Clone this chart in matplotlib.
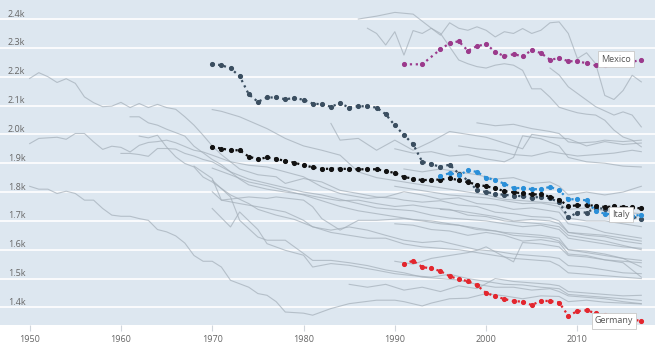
import matplotlib
matplotlib.use("Agg")
import matplotlib.pyplot as plt

plt.rcParams["font.family"] = ["Open Sans", "DejaVu Sans"]

# highlighted series
dark_years = list(range(1970, 2018))
dark_vals = [2244, 2240, 2229, 2202, 2139, 2113, 2128, 2128, 2122, 2126,
             2120, 2107, 2104, 2096, 2108, 2093, 2098, 2097, 2093, 2070,
             2031, 1998, 1966, 1905, 1897, 1887, 1895, 1864, 1840, 1807,
             1800, 1795, 1790, 1788, 1785, 1780, 1784, 1778, 1765, 1712,
             1729, 1729, 1745, 1742, 1735, 1722, 1714, 1708]

black_years = list(range(1970, 2018))
black_vals = [1957, 1951, 1945, 1945, 1923, 1914, 1920, 1915, 1908, 1902,
              1893, 1886, 1880, 1881, 1881, 1880, 1879, 1879, 1879, 1873,
              1866, 1852, 1847, 1841, 1843, 1843, 1848, 1841, 1834, 1826,
              1820, 1813, 1803, 1799, 1796, 1792, 1792, 1784, 1774, 1751,
              1754, 1754, 1753, 1748, 1750, 1748, 1747, 1743]

italy_years = list(range(1995, 2018))
italy_vals = [1855, 1866, 1858, 1875, 1870, 1850, 1841, 1829, 1814, 1814,
              1810, 1810, 1818, 1806, 1775, 1775, 1771, 1734, 1725, 1722,
              1718, 1716, 1722]

mexico_years = [1991, 1993] + list(range(1995, 2018))
mexico_vals = [2243, 2243, 2295, 2316, 2323, 2290, 2306, 2313, 2286, 2271,
               2278, 2271, 2292, 2282, 2259, 2264, 2254, 2253, 2247, 2239,
               2240, 2243, 2248, 2252, 2258]

germany_years = list(range(1991, 2018))
germany_vals = [1551, 1562, 1540, 1535, 1526, 1508, 1498, 1491, 1477, 1450,
                1439, 1429, 1422, 1420, 1408, 1423, 1422, 1417, 1371, 1387,
                1390, 1380, 1372, 1368, 1362, 1358, 1353]

# background (grey) series
bg01_x = list(range(1950, 1971)) + [1971, 1973, 1975, 1977, 1978, 1980, 1982, 1984, 1986, 1988, 1990, 1991,
                                     1993, 1995, 1997, 1999, 2001, 2003, 2005, 2007, 2008, 2009, 2011, 2013, 2015, 2017]
bg01_y = [2194, 2214, 2200, 2180, 2193, 2177, 2130, 2110, 2096, 2098, 2111, 2093, 2107, 2093, 2104, 2093,
          2087, 2061, 2032, 1997, 1960, 1930, 1880, 1860, 1853, 1830, 1847, 1835, 1806, 1795, 1783, 1778,
          1772, 1765, 1770, 1755, 1750, 1730, 1725, 1715, 1712, 1700, 1660, 1655, 1650, 1640, 1630]

bg02_x = list(range(1950, 1971)) + [1972, 1974, 1976, 1978, 1980, 1982, 1984, 1985, 1987, 1989, 1991, 1993,
                                     1995, 1997, 1999, 2001, 2003, 2005, 2007, 2008, 2009, 2011, 2013, 2015, 2017]
bg02_y = [1968, 1986, 1988, 1990, 1983, 2003, 2003, 1974, 1948, 1959, 1955, 1939, 1962, 1972, 1975, 1980,
          1971, 1958, 1945, 1939, 1928, 1905, 1893, 1887, 1870, 1853, 1818, 1795, 1789, 1778, 1783, 1801,
          1790, 1775, 1780, 1760, 1755, 1740, 1745, 1735, 1730, 1690, 1680, 1660, 1650, 1640]

bg03_x = list(range(1950, 1972)) + [1972, 1974, 1975, 1976, 1977, 1978, 1980, 1981, 1983, 1985, 1988, 1990,
                                     1991, 1993, 1994, 1996, 1998, 2000, 2002, 2004, 2006, 2008, 2009, 2011,
                                     2013, 2015, 2017]
bg03_y = [1820, 1810, 1810, 1795, 1803, 1795, 1772, 1772, 1743, 1720, 1716, 1716, 1708, 1702, 1670, 1662,
          1648, 1623, 1580, 1560, 1560, 1540, 1494, 1470, 1448, 1442, 1420, 1384, 1380, 1373, 1396, 1413,
          1425, 1425, 1420, 1405, 1415, 1430, 1432, 1448, 1440, 1430, 1440, 1438, 1420, 1425, 1418, 1415, 1412]

bg04_x = list(range(1961, 1971)) + [1971, 1972, 1973, 1974, 1976, 1978, 1980, 1982, 1984, 1986, 1988, 1990,
                                     1992, 1994, 1996, 1998, 2000, 2002, 2004, 2006, 2008, 2009, 2011, 2013,
                                     2015, 2017]
bg04_y = [2061, 2061, 2040, 2032, 2018, 2006, 1994, 1959, 1936, 1913, 1895, 1870, 1845, 1825, 1810, 1800,
          1792, 1780, 1770, 1772, 1760, 1750, 1755, 1745, 1740, 1720, 1715, 1700, 1695, 1690, 1680, 1650,
          1640, 1630, 1615, 1600]

bg05_x = list(range(1962, 1971)) + [1972, 1974, 1975, 1977, 1979, 1981, 1983, 1985, 1987, 1989, 1991, 1993,
                                     1995, 1997, 1999, 2001, 2003, 2005, 2007, 2008, 2009, 2011, 2013, 2015, 2017]
bg05_y = [1994, 1988, 1997, 1956, 1922, 1899, 1887, 1852, 1835, 1790, 1760, 1740, 1720, 1705, 1680, 1660,
          1650, 1640, 1640, 1620, 1610, 1605, 1600, 1590, 1580, 1570, 1565, 1560, 1545, 1520, 1515, 1510,
          1505, 1500]

bg06_x = list(range(1960, 1971)) + [1972, 1974, 1976, 1978, 1980, 1982, 1984, 1986, 1988, 1990, 1992, 1994,
                                     1996, 1998, 2000, 2002, 2004, 2006, 2008, 2009, 2011, 2013, 2015, 2017]
bg06_y = [1934, 1934, 1930, 1924, 1951, 1951, 1949, 1934, 1925, 1913, 1905, 1870, 1845, 1830, 1815, 1800,
          1790, 1775, 1760, 1745, 1740, 1735, 1720, 1710, 1705, 1700, 1690, 1680, 1685, 1670, 1640, 1630,
          1620, 1610, 1605]

bg07_x = [1970, 1971, 1973, 1976, 1978, 1980, 1982, 1984, 1986, 1988, 1990, 1992, 1994, 1996, 1998, 2000,
          2002, 2004, 2006, 2008, 2009, 2011, 2013, 2015, 2017]
bg07_y = [2086, 2080, 2061, 2020, 1986, 1960, 1945, 1928, 1870, 1850, 1840, 1830, 1820, 1810, 1800, 1790,
          1775, 1770, 1765, 1760, 1740, 1745, 1735, 1730, 1725]

bg08_x = [1983, 1984, 1986, 1988, 1990, 1992, 1994, 1996, 1998, 2000, 2002, 2004, 2005, 2007, 2009, 2011,
          2013, 2015, 2017]
bg08_y = [2038, 1980, 1986, 1945, 1980, 1945, 1975, 2010, 2000, 1990, 1970, 1950, 2000, 1990, 1985, 1960,
          1975, 1965, 1970]

bg09_x = [1986, 1988, 1990, 1992, 1994, 1995, 1997, 1998, 1999, 2000, 2001, 2002, 2003, 2004, 2005, 2006,
          2007, 2008, 2009, 2010, 2011, 2012, 2013, 2014, 2015, 2016, 2017]
bg09_y = [2400, 2410, 2423, 2417, 2368, 2350, 2258, 2245, 2235, 2230, 2240, 2245, 2240, 2222, 2158, 2158,
          2129, 2094, 2084, 2075, 2070, 2067, 2049, 2015, 1991, 1980, 1957]

bg10_x = list(range(1987, 2018))
bg10_y = [2368, 2350, 2310, 2356, 2275, 2360, 2350, 2368, 2344, 2387, 2368, 2361, 2373, 2361, 2338, 2356,
          2350, 2367, 2350, 2361, 2387, 2390, 2350, 2263, 2283, 2245, 2135, 2121, 2152, 2205, 2182]

bg11_x = [2007, 2008, 2009, 2010, 2011, 2012, 2014, 2015, 2016, 2017]
bg11_y = [2230, 2206, 2165, 2142, 2119, 2096, 2067, 2078, 2067, 2026]

bg12_x = [1999, 2001, 2003, 2005, 2007, 2008, 2009, 2010, 2012, 2013, 2015, 2017]
bg12_y = [2040, 2030, 2035, 2020, 2010, 2003, 1974, 1970, 1974, 1980, 1975, 1980]

bg13_x = [1997, 1999, 2001, 2003, 2005, 2007, 2008, 2010, 2012, 2014, 2016, 2017]
bg13_y = [1960, 1950, 1945, 1930, 1925, 1940, 1935, 1925, 1930, 1935, 1945, 1940]

bg14_x = [1991, 1993, 1995, 1997, 1999, 2001, 2003, 2005, 2007, 2008, 2009, 2011, 2013, 2015, 2017]
bg14_y = [1880, 1870, 1880, 1870, 1860, 1845, 1850, 1830, 1835, 1820, 1790, 1800, 1790, 1800, 1820]

bg15_x = [1990, 1992, 1994, 1996, 1998, 2000, 2002, 2003, 2004, 2006, 2008, 2009, 2011, 2013, 2015, 2017]
bg15_y = [1950, 1935, 1940, 1925, 1930, 1915, 1905, 1920, 1995, 1985, 1960, 1920, 1905, 1900, 1890, 1887]

bg16_x = [1970, 1972, 1974, 1976, 1978, 1980, 1982, 1984, 1986, 1988, 1990, 1992, 1994, 1996, 1998, 2000,
          2002, 2004, 2006, 2008, 2009, 2011, 2013, 2015, 2017]
bg16_y = [1883, 1860, 1835, 1822, 1805, 1790, 1770, 1750, 1735, 1725, 1715, 1705, 1700, 1690, 1680, 1670,
          1660, 1655, 1650, 1640, 1600, 1590, 1580, 1570, 1563]

bg17_x = [1970, 1972, 1973, 1975, 1976, 1978, 1980, 1981, 1983, 1985, 1988, 1990, 1992, 1994, 1996, 1998,
          2000, 2002, 2004, 2006, 2008, 2009, 2011, 2013, 2015, 2017]
bg17_y = [1743, 1679, 1731, 1670, 1621, 1598, 1581, 1540, 1552, 1546, 1529, 1517, 1510, 1505, 1515, 1500,
          1490, 1480, 1478, 1470, 1465, 1445, 1440, 1435, 1430, 1424]

bg18_x = [1970, 1971, 1973, 1975, 1978, 1980, 1981, 1983, 1985, 1987, 1989, 1991, 1993, 1995, 1997, 1999,
          2001, 2003, 2005, 2007, 2008, 2009, 2011, 2013, 2015, 2017]
bg18_y = [1801, 1772, 1760, 1749, 1731, 1702, 1679, 1668, 1679, 1668, 1650, 1633, 1625, 1630, 1615, 1600,
          1595, 1585, 1580, 1575, 1570, 1545, 1540, 1530, 1520, 1517]

bg19_x = [1970, 1972, 1973, 1975, 1976, 1978, 1980, 1981, 1983, 1985, 1987, 1989, 1991, 1993, 1995, 1997,
          1999, 2001, 2003, 2005, 2007, 2008, 2009, 2011, 2013, 2015, 2017]
bg19_y = [1841, 1783, 1702, 1644, 1633, 1633, 1587, 1563, 1563, 1555, 1545, 1530, 1520, 1505, 1500, 1495,
          1480, 1470, 1470, 1460, 1465, 1455, 1440, 1435, 1430, 1420, 1413]

bg20_x = [1968, 1970, 1971, 1974, 1976, 1977, 1980, 1981, 1982, 1984, 1986, 1988, 1991, 1993, 1995, 1997,
          1999, 2001, 2003, 2005, 2007, 2008, 2009, 2011, 2013, 2015, 2017]
bg20_y = [1890, 1847, 1772, 1783, 1778, 1783, 1772, 1749, 1708, 1668, 1702, 1702, 1708, 1700, 1690, 1685,
          1670, 1665, 1650, 1645, 1640, 1630, 1600, 1595, 1585, 1570, 1540]

bg21_x = [1985, 1987, 1989, 1991, 1993, 1995, 1997, 1999, 2001, 2003, 2005, 2007, 2008, 2009, 2011, 2013,
          2015, 2017]
bg21_y = [1480, 1470, 1480, 1460, 1470, 1455, 1475, 1465, 1500, 1490, 1485, 1480, 1475, 1455, 1450, 1445,
          1440, 1442]

bg22_x = [1990, 1992, 1994, 1996, 1998, 1999, 2000, 2003, 2004, 2006, 2008, 2009, 2011, 2013, 2015, 2017]
bg22_y = [1560, 1550, 1570, 1580, 1590, 1598, 1610, 1558, 1625, 1620, 1610, 1580, 1575, 1565, 1560, 1555]

bg23_x = [1990, 1992, 1994, 1996, 1998, 2000, 2002, 2004, 2006, 2008, 2009, 2011, 2013, 2015, 2017]
bg23_y = [1690, 1685, 1670, 1665, 1650, 1660, 1650, 1630, 1635, 1625, 1585, 1580, 1565, 1555, 1505]

bg24_x = [1995, 1997, 1999, 2001, 2003, 2005, 2007, 2008, 2009, 2011, 2013, 2015, 2017]
bg24_y = [1740, 1735, 1725, 1715, 1700, 1705, 1700, 1690, 1660, 1650, 1645, 1630, 1621]

bg25_x = [1990, 1992, 1994, 1996, 1998, 2000, 2002, 2004, 2006, 2008, 2009, 2011, 2013, 2015, 2017]
bg25_y = [1820, 1810, 1800, 1790, 1785, 1780, 1770, 1760, 1762, 1750, 1710, 1700, 1700, 1690, 1680]

y_ticks = [1400, 1500, 1600, 1700, 1800, 1900, 2000, 2100, 2200, 2300, 2400]
y_labels = ["1.4k", "1.5k", "1.6k", "1.7k", "1.8k", "1.9k", "2.0k", "2.1k", "2.2k", "2.3k", "2.4k"]
x_ticks = [1950, 1960, 1970, 1980, 1990, 2000, 2010]

background = [(bg01_x, bg01_y), (bg02_x, bg02_y), (bg03_x, bg03_y), (bg04_x, bg04_y), (bg05_x, bg05_y),
              (bg06_x, bg06_y), (bg07_x, bg07_y), (bg08_x, bg08_y), (bg09_x, bg09_y), (bg10_x, bg10_y),
              (bg11_x, bg11_y), (bg12_x, bg12_y), (bg13_x, bg13_y), (bg14_x, bg14_y), (bg15_x, bg15_y),
              (bg16_x, bg16_y), (bg17_x, bg17_y), (bg18_x, bg18_y), (bg19_x, bg19_y), (bg20_x, bg20_y),
              (bg21_x, bg21_y), (bg22_x, bg22_y), (bg23_x, bg23_y), (bg24_x, bg24_y), (bg25_x, bg25_y)]

fig = plt.figure(figsize=(6.6, 3.44), dpi=100)
ax = fig.add_axes([0, 19 / 344, 655 / 660, 325 / 344])
ax.set_facecolor("#dde7f0")
ax.set_xlim(1946.75, 2018.5)
ax.set_ylim(1339, 2466)

for s in ax.spines.values():
    s.set_visible(False)

ax.set_yticks(y_ticks)
ax.set_yticklabels([])
ax.tick_params(axis="y", length=0)
ax.yaxis.grid(True, color="white", linewidth=1.2)
ax.set_axisbelow(True)

ax.set_xticks(x_ticks)
ax.set_xticklabels([str(t) for t in x_ticks])
ax.tick_params(axis="x", length=4, color="#d0d6dc", labelsize=6.5, labelcolor="#666666", pad=3)

for lbl, v in zip(y_labels, y_ticks):
    ax.text(1947.6, v + 17, lbl, fontsize=6.5, color="#666666", va="center", ha="left")

for xs, ys in background:
    ax.plot(xs, ys, color="#a3aeb8", linewidth=0.8, alpha=0.7, zorder=2)

hl = dict(linestyle=":", linewidth=1.6, marker="o", markersize=2.7, zorder=4)
ax.plot(dark_years, dark_vals, color="#3a4e60", **hl)
ax.plot(black_years, black_vals, color="#111111", **hl)
ax.plot(italy_years, italy_vals, color="#2a8fd8", **hl)
ax.plot(mexico_years, mexico_vals, color="#9b3a8c", **hl)
ax.plot(germany_years, germany_vals, color="#e3262e", **hl)

box = dict(boxstyle="square,pad=0.35", facecolor="white", edgecolor="#c8c8c8", linewidth=0.6)
ax.text(2014.2, 2261, "Mexico", fontsize=6.5, color="#555555", ha="center", va="center", bbox=box, zorder=6)
ax.text(2014.8, 1723, "Italy", fontsize=6.5, color="#555555", ha="center", va="center", bbox=box, zorder=6)
ax.text(2014.0, 1353, "Germany", fontsize=6.5, color="#555555", ha="center", va="center", bbox=box,
        zorder=6, clip_on=False)

fig.savefig("out.png", dpi=100)
